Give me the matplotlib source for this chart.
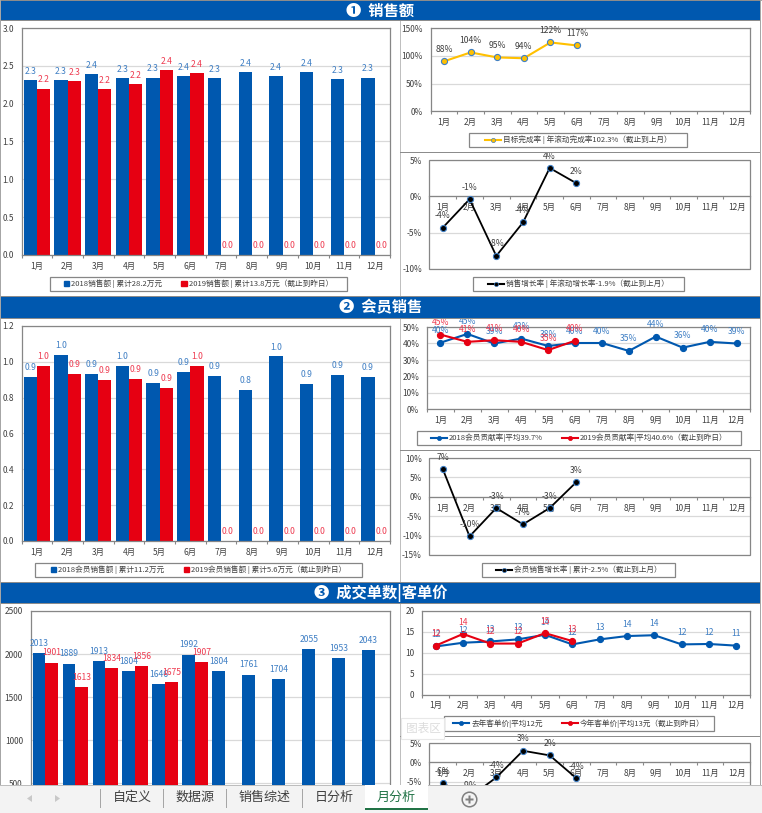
import matplotlib
matplotlib.use('Agg')
import matplotlib.pyplot as plt
import numpy as np
from matplotlib.patches import Rectangle, Polygon, Patch
from matplotlib.lines import Line2D
from matplotlib.ticker import FixedLocator, NullFormatter, FixedFormatter

plt.rcParams['font.family'] = ['Noto Sans CJK SC', 'DejaVu Sans']
plt.rcParams['axes.unicode_minus'] = False

W, H = 762, 813
BLUE, RED, GOLD, BLACK = '#0058AF', '#E60012', '#FFC000', '#000000'
LBLUE, LRED = '#3F7FC4', '#EE3B50'
GRID, EDGE, TXT = '#D9D9D9', '#868686', '#404040'

months = ['1月', '2月', '3月', '4月', '5月', '6月', '7月', '8月', '9月', '10月', '11月', '12月']

sales18 = [2.31, 2.31, 2.39, 2.335, 2.345, 2.36, 2.335, 2.415, 2.36, 2.415, 2.32, 2.345]
sales19 = [2.20, 2.295, 2.19, 2.255, 2.44, 2.40, 0, 0, 0, 0, 0, 0]
sales18_lab = ['2.3', '2.3', '2.4', '2.3', '2.3', '2.4', '2.3', '2.4', '2.4', '2.4', '2.3', '2.3']
sales19_lab = ['2.2', '2.3', '2.2', '2.2', '2.4', '2.4', '0.0', '0.0', '0.0', '0.0', '0.0', '0.0']

target = [90, 106, 97, 95.5, 124, 118.5]
target_lab = ['88%', '104%', '95%', '94%', '122%', '117%']
growth = [-4.3, -0.4, -8.2, -3.6, 3.9, 1.8]
growth_lab = ['-4%', '-1%', '-8%', '-4%', '4%', '2%']

member18 = [0.917, 1.04, 0.934, 0.979, 0.884, 0.945, 0.923, 0.845, 1.03, 0.878, 0.929, 0.917]
member19 = [0.979, 0.934, 0.90, 0.906, 0.856, 0.979, 0, 0, 0, 0, 0, 0]
member18_lab = ['0.9', '1.0', '0.9', '1.0', '0.9', '0.9', '0.9', '0.8', '1.0', '0.9', '0.9', '0.9']
member19_lab = ['1.0', '0.9', '0.9', '0.9', '0.9', '1.0', '0.0', '0.0', '0.0', '0.0', '0.0', '0.0']

share18 = [40.5, 45.8, 40, 43, 38.5, 40.3, 40.3, 35.5, 44.2, 37.5, 41, 40]
share19 = [45.4, 41, 42, 41, 36, 41.7]
share18_lab = ['40%', '45%', '39%', '42%', '38%', '40%', '40%', '35%', '44%', '36%', '40%', '39%']
share19_lab = ['45%', '41%', '41%', '40%', '35%', '40%']

mgrowth = [7.1, -10.2, -2.9, -7.1, -2.9, 3.8]
mgrowth_lab = ['7%', '-10%', '-3%', '-7%', '-3%', '3%']

orders18 = [2013, 1889, 1913, 1804, 1646, 1992, 1804, 1761, 1704, 2055, 1953, 2043]
orders19 = [1901, 1613, 1834, 1856, 1675, 1907]

price18 = [11.5, 12.4, 12.7, 13.2, 14.3, 12, 13.2, 14, 14.2, 12, 12.1, 11.7]
price19 = [11.7, 14.5, 12.2, 12.2, 14.7, 12.8]
price18_lab = ['12', '12', '13', '13', '14', '12', '13', '14', '14', '12', '12', '11']
price19_lab = ['12', '14', '12', '12', '15', '13']

pgrowth = [-5.4, -9.0, -3.9, 3.0, 1.8, -4.1]
pgrowth_lab = ['-6%', '-9%', '-4%', '3%', '2%', '-4%']

titles = ['❶  销售额', '❷  会员销售', '❸  成交单数|客单价']
tabs = ['自定义', '数据源', '销售综述', '日分析', '月分析']

fig = plt.figure(figsize=(W / 100, H / 100), dpi=100, facecolor='white')


def pxrect(x0, y0, x1, y1, **kw):
    r = Rectangle((x0 / W, 1 - y1 / H), (x1 - x0) / W, (y1 - y0) / H,
                  transform=fig.transFigure, **kw)
    fig.add_artist(r)
    return r


def make_axes(l, t, r, b, ylim, yticks, yfmt, ticksize=6, xlabels=True):
    ax = fig.add_axes([l / W, 1 - b / H, (r - l) / W, (b - t) / H])
    ax.patch.set_alpha(0)
    ax.set_xlim(0, 12)
    ax.set_ylim(*ylim)
    ax.set_yticks(yticks)
    ax.set_yticklabels([yfmt(v) for v in yticks], fontsize=ticksize, color=TXT)
    ax.tick_params(axis='y', length=0, pad=5.5)
    ax.xaxis.set_major_locator(FixedLocator(np.arange(13)))
    ax.xaxis.set_major_formatter(NullFormatter())
    if xlabels:
        ax.xaxis.set_minor_locator(FixedLocator(np.arange(12) + 0.5))
        ax.xaxis.set_minor_formatter(FixedFormatter(months))
    ax.tick_params(axis='x', which='major', length=2.5, width=0.8, color=EDGE, direction='out')
    ax.tick_params(axis='x', which='minor', length=0, labelsize=ticksize, labelcolor=TXT, pad=5)
    ax.grid(axis='y', color=GRID, lw=0.9)
    ax.set_axisbelow(True)
    for s in ax.spines.values():
        s.set_color(EDGE)
        s.set_linewidth(0.9)
    if ylim[0] < 0:
        ax.spines['bottom'].set_position(('data', 0))
        for side in ('left', 'right', 'top'):
            ax.spines[side].set_visible(False)
        ax.add_patch(Rectangle((0, 0), 1, 1, transform=ax.transAxes, fill=False,
                               ec=EDGE, lw=0.9, clip_on=False, zorder=1))
    return ax


def add_legend(ax, handles, labels, box, hlen, spacing=2.5):
    x0, y0, x1, y1 = box
    pxrect(x0, y0, x1, y1, fc='white', ec=EDGE, lw=0.9, zorder=-1)
    leg = ax.legend(handles, labels, loc='center',
                    bbox_to_anchor=((x0 + x1) / 2 / W, 1 - (y0 + y1) / 2 / H),
                    bbox_transform=fig.transFigure, ncol=len(labels), fontsize=5.5,
                    frameon=False, borderpad=0, labelspacing=0, handlelength=hlen,
                    handletextpad=0.25, columnspacing=spacing, labelcolor=TXT)
    return leg


def bars(ax, a, b, a_lab, b_lab, fs=6.2, off=6.5):
    x = np.arange(len(a)) + 0.5
    w = 0.43
    ax.bar(x - w / 2, a, w, color=BLUE, zorder=2)
    xb = x[:len(b)]
    ax.bar(xb + w / 2, b, w, color=RED, zorder=2)
    for xi, v, s in zip(x, a, a_lab):
        ax.annotate(s, (xi - w / 2, v), xytext=(0, off), textcoords='offset points',
                    ha='center', va='center', fontsize=fs, color=LBLUE, zorder=4)
    for xi, v, s in zip(xb, b, b_lab):
        ax.annotate(s, (xi + w / 2, v), xytext=(0, off), textcoords='offset points',
                    ha='center', va='center', fontsize=fs, color=LRED, zorder=4)


def line(ax, vals, labs, color, face, tcolor, lw=1.5, ms=4.4, off=8.6, edge=None):
    x = np.arange(len(vals)) + 0.5
    ax.plot(x, vals, color=color, lw=lw, marker='o', ms=ms, mfc=face,
            mec=edge or face, mew=0.8, zorder=3, clip_on=False)
    for xi, v, s in zip(x, vals, labs):
        ax.annotate(s, (xi, v), xytext=(0, off), textcoords='offset points',
                    ha='center', va='center', fontsize=6.2, color=tcolor, zorder=4)


def bar_handle(c):
    return Patch(facecolor=c, edgecolor=c)


def line_handle(c, face=None, edge=None):
    return Line2D([], [], color=c, lw=1.5, marker='o', ms=3, mfc=face or c, mec=edge or c, mew=0.5)


pct = lambda v: f'{v:.0f}%'

# panel frames and section headers
pxrect(0, 0, W, 1, fc='#A6A6A6', ec='none')
pxrect(0, 0, 1, 785, fc='#A6A6A6', ec='none')
pxrect(760, 0, 761, 785, fc='#A6A6A6', ec='none')
pxrect(400, 20, 401, 785, fc='#BFBFBF', ec='none')
for yy in (152, 450, 736):
    pxrect(400, yy, 760, yy + 1, fc='#8C8C8C', ec='none')
for (y0, y1), t, tx in zip([(1, 20), (297, 318), (583, 603)], titles, [380, 381, 381]):
    pxrect(1, y0 - 1, 760, y0, fc='#8C8C8C', ec='none')
    pxrect(1, y0, 760, y1, fc=BLUE, ec='none')
    pxrect(1, y1, 760, y1 + 1, fc='#8C8C8C', ec='none')
    fig.text(tx / W, 1 - (y0 + y1) / 2 / H, t, ha='center', va='center', color='white',
             fontsize=11, fontweight='bold')

# section 1
a = make_axes(21.5, 28, 390, 255, (0, 3), [0, .5, 1, 1.5, 2, 2.5, 3], lambda v: f'{v:.1f}')
bars(a, sales18, sales19, sales18_lab, sales19_lab)
add_legend(a, [bar_handle(BLUE), bar_handle(RED)],
           ['2018销售额 | 累计28.2万元', '2019销售额 | 累计13.8万元（截止到昨日）'], (50, 277, 347, 291), 0.7)

a = make_axes(430.7, 28, 750, 111.3, (0, 150), [0, 50, 100, 150], pct)
line(a, target, target_lab, GOLD, GOLD, TXT, edge='#3F7FC4')
add_legend(a, [line_handle(GOLD, GOLD, '#3F7FC4')], ['目标完成率 | 年滚动完成率102.3%（截止到上月）'],
           (469, 133, 687, 147), 2.1)

a = make_axes(429.5, 160, 750, 269, (-10, 5), [-10, -5, 0, 5], pct)
line(a, growth, growth_lab, BLACK, BLACK, TXT, lw=1.3, edge='#3F7FC4')
add_legend(a, [line_handle(BLACK, BLACK, '#3F7FC4')], ['销售增长率 | 年滚动增长率-1.9%（截止到上月）'],
           (473, 277, 684, 291), 2.1)

# section 2
a = make_axes(21.5, 326, 390, 541, (0, 1.2), [0, .2, .4, .6, .8, 1, 1.2], lambda v: f'{v:.1f}')
bars(a, member18, member19, member18_lab, member19_lab)
add_legend(a, [bar_handle(BLUE), bar_handle(RED)],
           ['2018会员销售额 | 累计11.2万元', '2019会员销售额 | 累计5.6万元（截止到昨日）'],
           (35, 563, 362, 577), 0.7)

a = make_axes(427, 327, 750, 409.5, (0, 50), [0, 10, 20, 30, 40, 50], pct)
line(a, share18, share18_lab, BLUE, BLUE, LBLUE)
line(a, share19, share19_lab, RED, RED, LRED)
add_legend(a, [line_handle(BLUE), line_handle(RED)],
           ['2018会员贡献率|平均39.7%', '2019会员贡献率|平均40.6%（截止到昨日）'], (417, 431, 741, 445), 2.1)

a = make_axes(429.5, 458, 750, 555, (-15, 10), [-15, -10, -5, 0, 5, 10], pct)
line(a, mgrowth, mgrowth_lab, BLACK, BLACK, TXT, lw=1.3, edge='#3F7FC4')
add_legend(a, [line_handle(BLACK, BLACK, '#3F7FC4')], ['会员销售增长率 | 累计-2.5%（截止到上月）'],
           (482, 563, 675, 577), 2.1)

# section 3 (lower parts sit behind the sheet tab bar, as in the reference)
a = make_axes(30.5, 611, 390, 826, (0, 2500), [500, 1000, 1500, 2000, 2500], lambda v: f'{v:d}', xlabels=False)
bars(a, orders18, orders19, [str(v) for v in orders18], [str(v) for v in orders19], off=7)

a = make_axes(422, 611, 750, 694.5, (0, 20), [0, 5, 10, 15, 20], lambda v: f'{v:d}')
line(a, price18, price18_lab, BLUE, BLUE, LBLUE)
line(a, price19, price19_lab, RED, RED, LRED)
add_legend(a, [line_handle(BLUE), line_handle(RED)],
           ['去年客单价|平均12元', '今年客单价|平均13元（截止到昨日）'], (444, 716, 714, 731), 2.1)

a = make_axes(429.5, 743, 750, 820.5, (-15, 5), [-5, 0, 5], pct)
line(a, pgrowth, pgrowth_lab, BLACK, BLACK, TXT, lw=1.3, edge='#3F7FC4')

# hover tooltip left over from the spreadsheet
pxrect(401, 718, 444, 739, fc='white', ec='#E8E8E8', lw=0.8, zorder=20)
fig.text(423 / W, 1 - 728.5 / H, '图表区', ha='center', va='center', fontsize=8.4,
         color='#DCDCDC', zorder=21)

# sheet tab bar
pxrect(0, 785, W, H, fc='#F3F3F3', ec='none', zorder=50)
pxrect(0, 785, 365, 786, fc='#BDBDBD', ec='none', zorder=51)
pxrect(427, 785, W, 786, fc='#BDBDBD', ec='none', zorder=51)
pxrect(365, 785, 428, 809, fc='white', ec='none', zorder=51)
pxrect(365, 808, 428, 810, fc='#217346', ec='none', zorder=52)
for xs in (100, 163, 226, 302):
    pxrect(xs, 789, xs + 1, 808, fc='#A6A6A6', ec='none', zorder=52)
for t, xt, c in zip(tabs, [132, 195, 265, 334, 396], [TXT, TXT, TXT, TXT, '#217346']):
    fig.text(xt / W, 1 - 797.5 / H, t, ha='center', va='center', fontsize=9.4, color=c, zorder=53)
for pts in ([(32, 795), (27, 798.5), (32, 802)], [(55, 795), (60, 798.5), (55, 802)]):
    fig.add_artist(Polygon([(px / W, 1 - py / H) for px, py in pts], closed=True,
                           transform=fig.transFigure, fc='#C8C8C8', ec='none', zorder=53))
fig.add_artist(Line2D([469 / W], [1 - 799 / H], transform=fig.transFigure, marker='o', ms=10.5,
                      mfc='#F3F3F3', mec='#7F7F7F', mew=1.1, zorder=53))
fig.add_artist(Line2D([469 / W], [1 - 799 / H], transform=fig.transFigure, marker='P', ms=6,
                      mfc='#7F7F7F', mec='none', zorder=54))

fig.savefig('out.png', dpi=100)
